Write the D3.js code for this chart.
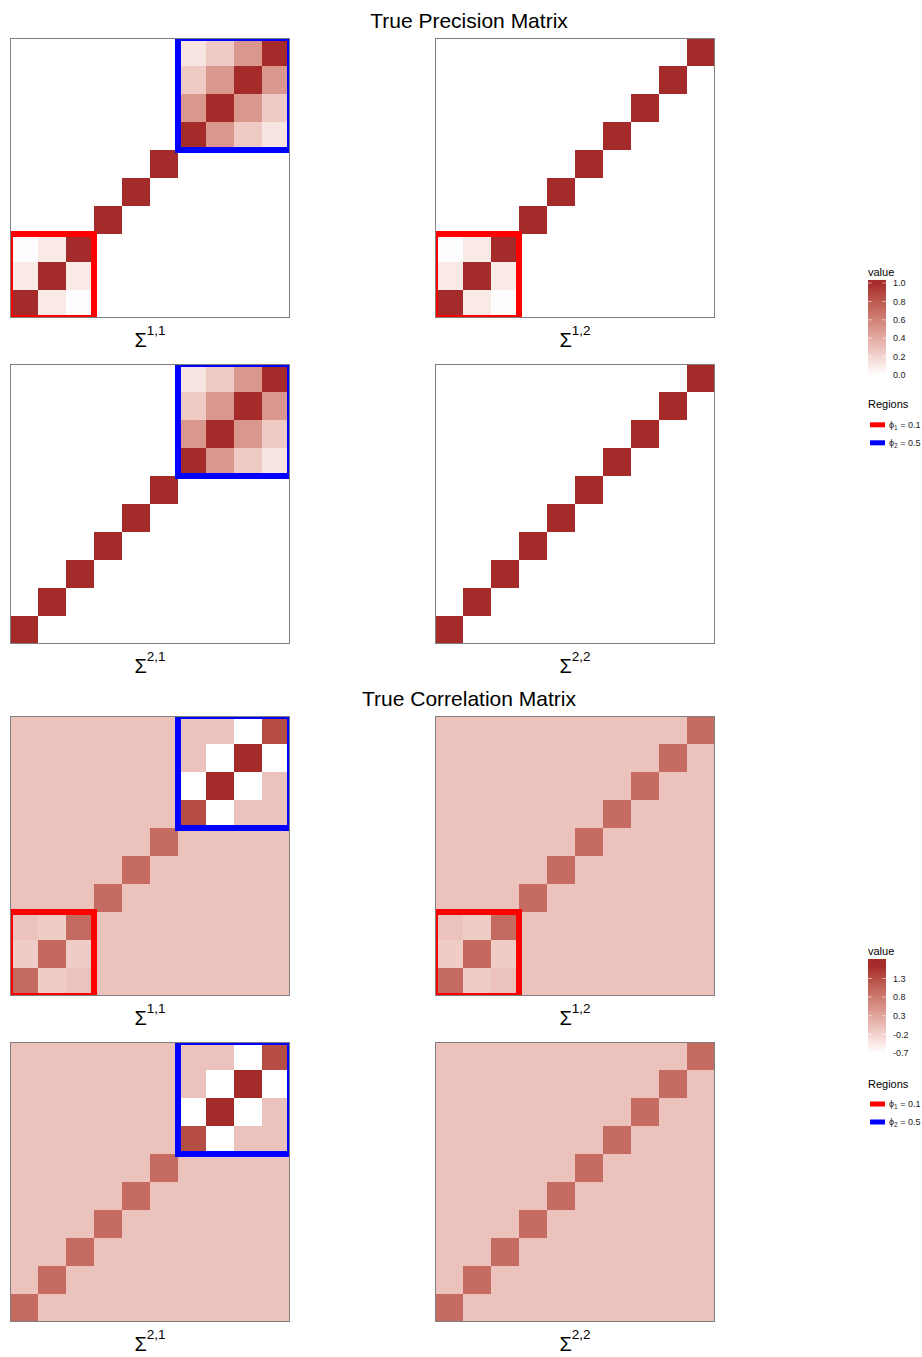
<!DOCTYPE html>
<html>
<head>
<meta charset="utf-8">
<script src="https://cdn.jsdelivr.net/npm/d3@7"></script>
<style>
  body { margin: 0; background: #fff; }
  svg  { font-family: "Liberation Sans", Arial, sans-serif; }
</style>
</head>
<body>
<div id="chart"></div>
<script>
// ---- data ----
const cells = [1, 2, 3, 4, 5, 6, 7, 8, 9, 10]

const sectionTitles = ["True Precision Matrix", "True Correlation Matrix"]
const panelLabels   = ["1,1", "1,2", "2,1", "2,2"]
const panelHasRed   = [true, true, false, false]
const panelHasBlue  = [true, false, true, false]

const redCells  = [1, 2, 3]
const blueCells = [7, 8, 9, 10]

// blocks: rows = y cell (bottom up), columns = x cell (left to right)
const precRed  = [[1, 0.1, 0.01], [0.1, 1, 0.1], [0.01, 0.1, 1]]
const precBlue = [[1, 0.5, 0.25, 0.125], [0.5, 1, 0.5, 0.25], [0.25, 0.5, 1, 0.5], [0.125, 0.25, 0.5, 1]]
const precDiag = 1
const precOff  = 0

const corrRed  = [[1.01, -0.1, 0], [-0.1, 1.02, -0.1], [0, -0.1, 1.01]]
const corrBlue = [[1.333, -0.667, 0, 0], [-0.667, 1.667, -0.667, 0], [0, -0.667, 1.667, -0.667], [0, 0, -0.667, 1.333]]
const corrDiag = 1
const corrOff  = 0

const precBreaks = [0, 0.2, 0.4, 0.6, 0.8, 1.0]
const precLabels = ["0.0", "0.2", "0.4", "0.6", "0.8", "1.0"]
const corrBreaks = [-0.667, -0.167, 0.333, 0.833, 1.333]
const corrLabels = ["-0.7", "-0.2", "0.3", "0.8", "1.3"]

const regionNames  = ["\u03d5", "\u03d5"]
const regionSubs   = ["1", "2"]
const regionValues = ["0.1", "0.5"]
const regionColors = ["#ff0000", "#0000ff"]

// ---- layout ----
const W = 922, H = 1357
const size   = 280
const panelX = [10, 435, 10, 435]
const panelY = [38, 38, 364, 364]

const sections = [
  { title: sectionTitles[0], top: 0,   red: precRed, blue: precBlue, diag: precDiag, off: precOff,
    breaks: precBreaks, labels: precLabels, legendRange: [375, 283], bar: [280.7, 378.3] },
  { title: sectionTitles[1], top: 678, red: corrRed, blue: corrBlue, diag: corrDiag, off: corrOff,
    breaks: corrBreaks, labels: corrLabels, legendRange: [1053, 966], bar: [959.5, 1057.5] }
]

const x = d3.scaleBand().domain(cells).range([0, size])
const y = d3.scaleBand().domain(cells).range([size, 0])

function buildMatrix(sec, p){
  let out = []
  cells.forEach(function(yv){
    cells.forEach(function(xv){
      let v = xv == yv ? sec.diag : sec.off
      let ri = redCells.indexOf(xv), rj = redCells.indexOf(yv)
      if (panelHasRed[p] && ri >= 0 && rj >= 0) { v = sec.red[rj][ri] }
      let bi = blueCells.indexOf(xv), bj = blueCells.indexOf(yv)
      if (panelHasBlue[p] && bi >= 0 && bj >= 0) { v = sec.blue[bj][bi] }
      out.push({x: xv, y: yv, v: v})
    })
  })
  return out
}

const svg = d3.select("#chart").append("svg")
  .attr("width", W)
  .attr("height", H)

svg.append("rect").attr("width", W).attr("height", H).attr("fill", "#fff")

sections.forEach(function(sec, si){
  let panels = panelLabels.map(function(lab, p){ return buildMatrix(sec, p) })
  let limits = d3.extent(d3.merge(panels), function(d){ return d.v })

  let color = d3.scaleLinear()
    .domain(limits)
    .range(["#ffffff", "#a52a2a"])
    .interpolate(d3.interpolateLab)
    .clamp(true)

  let g = svg.append("g").attr("transform", "translate(0," + sec.top + ")")

  g.append("text")
    .attr("x", 469)
    .attr("y", 28)
    .attr("text-anchor", "middle")
    .attr("font-size", 21)
    .text(sec.title)

  panels.forEach(function(data, p){
    let pg = g.append("g").attr("transform", "translate(" + panelX[p] + "," + panelY[p] + ")")
    let clipId = "clip-" + si + "-" + p

    pg.append("clipPath").attr("id", clipId)
      .append("rect").attr("width", size).attr("height", size)

    pg.append("g")
      .selectAll("rect")
      .data(data)
      .join("rect")
      .attr("x", function(d){ return x(d.x) })
      .attr("y", function(d){ return y(d.y) })
      .attr("width", x.bandwidth())
      .attr("height", y.bandwidth())
      .attr("fill", function(d){ return color(d.v) })
      .attr("shape-rendering", "crispEdges")

    // region boxes
    let boxes = []
    if (panelHasRed[p])  { boxes.push({c: redCells,  col: regionColors[0]}) }
    if (panelHasBlue[p]) { boxes.push({c: blueCells, col: regionColors[1]}) }

    pg.append("g")
      .attr("clip-path", "url(#" + clipId + ")")
      .selectAll("rect")
      .data(boxes)
      .join("rect")
      .attr("x", function(d){ return x(d.c[0]) })
      .attr("y", function(d){ return y(d.c[d.c.length - 1]) })
      .attr("width", function(d){ return x(d.c[d.c.length - 1]) + x.bandwidth() - x(d.c[0]) })
      .attr("height", function(d){ return y(d.c[0]) + y.bandwidth() - y(d.c[d.c.length - 1]) })
      .attr("fill", "none")
      .attr("stroke", function(d){ return d.col })
      .attr("stroke-width", 6)

    pg.append("rect")
      .attr("x", 0.5).attr("y", 0.5)
      .attr("width", size - 1).attr("height", size - 1)
      .attr("fill", "none")
      .attr("stroke", "#7f7f7f")
      .attr("stroke-width", 1)

    let lab = pg.append("text")
      .attr("x", size / 2)
      .attr("y", size + 29)
      .attr("text-anchor", "middle")
      .attr("font-size", 20)
    lab.append("tspan").text("\u03a3")
    lab.append("tspan")
      .attr("font-size", 13.5)
      .attr("dy", -12)
      .text(panelLabels[p])
  })

  // ---- legend ----
  let lx = 868, bw = 18
  let ly = d3.scaleLinear().domain(limits).range(sec.legendRange)
  let lg = svg.append("g")

  lg.append("text")
    .attr("x", lx).attr("y", sec.bar[0] - 5)
    .attr("font-size", 11)
    .text("value")

  let steps = d3.range(Math.floor(sec.bar[0]), Math.ceil(sec.bar[1]), 1)
  lg.append("g")
    .selectAll("rect")
    .data(steps)
    .join("rect")
    .attr("x", lx)
    .attr("y", function(d){ return d })
    .attr("width", bw)
    .attr("height", 1.2)
    .attr("fill", function(d){ return color(ly.invert(d + 0.5)) })

  let tick = lg.append("g")
    .selectAll("g")
    .data(sec.breaks)
    .join("g")
    .attr("transform", function(d){ return "translate(0," + ly(d) + ")" })
  tick.append("line")
    .attr("x1", lx).attr("x2", lx + 3.6)
    .attr("stroke", "#fff").attr("stroke-width", 0.6)
  tick.append("line")
    .attr("x1", lx + bw - 3.6).attr("x2", lx + bw)
    .attr("stroke", "#fff").attr("stroke-width", 0.6)
  tick.append("text")
    .attr("x", lx + bw + 7)
    .attr("dy", "0.35em")
    .attr("font-size", 9)
    .attr("fill", "#1a1a1a")
    .text(function(d, i){ return sec.labels[i] })

  let ry = sec.bar[1] + 30
  lg.append("text")
    .attr("x", lx).attr("y", ry)
    .attr("font-size", 11)
    .text("Regions")

  let item = lg.append("g")
    .selectAll("g")
    .data(regionColors)
    .join("g")
    .attr("transform", function(d, i){ return "translate(" + lx + "," + (ry + 16.5 + i * 18) + ")" })
  item.append("rect")
    .attr("x", 2).attr("y", -2.5)
    .attr("width", 15).attr("height", 5)
    .attr("fill", function(d){ return d })
  let it = item.append("text")
    .attr("x", 21)
    .attr("dy", "0.35em")
    .attr("font-size", 9)
    .attr("fill", "#1a1a1a")
  it.append("tspan").text(function(d, i){ return regionNames[i] })
  it.append("tspan").attr("font-size", 6.5).attr("dy", 2)
    .text(function(d, i){ return regionSubs[i] })
  it.append("tspan").attr("dy", -2)
    .text(function(d, i){ return " = " + regionValues[i] })
})
</script>
</body>
</html>
